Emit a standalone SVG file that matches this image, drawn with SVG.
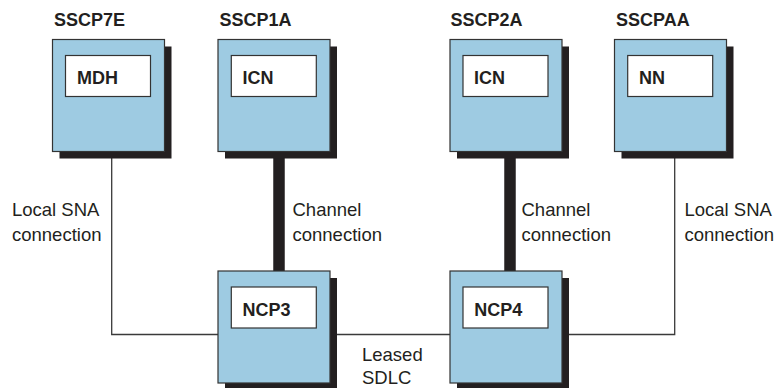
<svg xmlns="http://www.w3.org/2000/svg" width="777" height="388" viewBox="0 0 777 388">
<style>
.sh{fill:#231f20}
.bx{fill:#9ecbe2;stroke:#333;stroke-width:1.2}
.in{fill:#fff;stroke:#333;stroke-width:1.2}
.b{font-family:"Liberation Sans",Arial,sans-serif;font-weight:bold;font-size:18px;fill:#231f20}
.t{font-family:"Liberation Sans",Arial,sans-serif;font-size:18.5px;fill:#231f20}
.thin{fill:none;stroke:#3a3a3a;stroke-width:1.3}
.thick{fill:none;stroke:#231f20;stroke-width:11.5}
</style>
<rect width="777" height="388" fill="#fff"/>
<g id="connectors">
<polyline class="thin" points="111.7,151.5 111.7,334.5 218,334.5"/>
<line class="thin" x1="330" y1="334.5" x2="450" y2="334.5"/>
<polyline class="thin" points="562,334.5 674.7,334.5 674.7,151.5"/>
<line class="thick" x1="279" y1="151.5" x2="279" y2="271"/>
<line class="thick" x1="510" y1="151.5" x2="510" y2="271"/>
</g>
<g id="SSCP7E">
<text class="b" x="54" y="26">SSCP7E</text>
<rect class="sh" x="59.5" y="46.5" width="112" height="112"/>
<rect class="bx" x="52.5" y="39.5" width="112" height="112"/>
<rect class="in" x="65.5" y="55.5" width="85" height="41"/>
<text class="b" x="77" y="84">MDH</text>
</g>
<g id="SSCP1A">
<text class="b" x="219.5" y="26">SSCP1A</text>
<rect class="sh" x="225" y="46.5" width="112" height="112"/>
<rect class="bx" x="218" y="39.5" width="112" height="112"/>
<rect class="in" x="231.3" y="55.5" width="85" height="41"/>
<text class="b" x="242.5" y="84">ICN</text>
</g>
<g id="SSCP2A">
<text class="b" x="450.5" y="26">SSCP2A</text>
<rect class="sh" x="457" y="46.5" width="112" height="112"/>
<rect class="bx" x="450" y="39.5" width="112" height="112"/>
<rect class="in" x="463" y="55.5" width="85" height="41"/>
<text class="b" x="474" y="84">ICN</text>
</g>
<g id="SSCPAA">
<text class="b" x="616" y="26">SSCPAA</text>
<rect class="sh" x="621.5" y="46.5" width="112" height="112"/>
<rect class="bx" x="614.5" y="39.5" width="112" height="112"/>
<rect class="in" x="627.7" y="55.5" width="85" height="41"/>
<text class="b" x="639" y="84">NN</text>
</g>
<g id="NCP3">
<rect class="sh" x="225" y="278" width="112" height="112"/>
<rect class="bx" x="218" y="271" width="112" height="112"/>
<rect class="in" x="231.3" y="287" width="85" height="41"/>
<text class="b" x="242.5" y="315.7">NCP3</text>
</g>
<g id="NCP4">
<rect class="sh" x="457" y="278" width="112" height="112"/>
<rect class="bx" x="450" y="271" width="112" height="112"/>
<rect class="in" x="463" y="287" width="85" height="41"/>
<text class="b" x="474.3" y="315.7">NCP4</text>
</g>
<g id="labels">
<text class="t" x="12" y="216">Local SNA</text>
<text class="t" x="12" y="241">connection</text>
<text class="t" x="292.5" y="216">Channel</text>
<text class="t" x="292.5" y="241">connection</text>
<text class="t" x="521.5" y="216">Channel</text>
<text class="t" x="521.5" y="241">connection</text>
<text class="t" x="684.5" y="216">Local SNA</text>
<text class="t" x="684.5" y="241">connection</text>
<text class="t" x="362" y="361">Leased</text>
<text class="t" x="362" y="384">SDLC</text>
</g>
</svg>
